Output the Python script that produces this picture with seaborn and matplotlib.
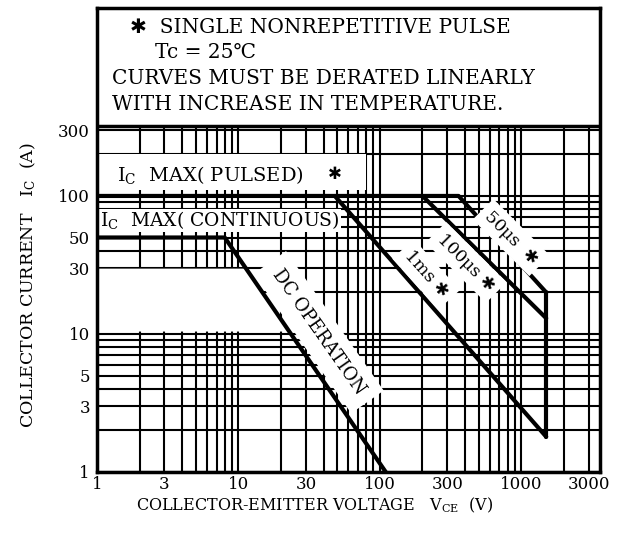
import numpy as np
import pandas as pd
import seaborn as sns
import matplotlib.pyplot as plt
from matplotlib.ticker import NullFormatter

# safe operating area curves (V_CE in volts, I_C in amps)
pulse50_v = [1, 360, 1500]
pulse50_i = [100, 100, 20]
pulse100_v = [200, 1500]
pulse100_i = [100, 13]
pulse1ms_v = [48, 1500]
pulse1ms_i = [100, 1.8]
dc_v = [1, 8, 110]
dc_i = [50, 50, 1]
vmax_v = [1500, 1500]
vmax_i = [1.8, 20]

xtick_vals = [1, 3, 10, 30, 100, 300, 1000, 3000]
ytick_vals = [1, 3, 5, 10, 30, 50, 100, 300]

note_lines = ["\u2731  SINGLE NONREPETITIVE PULSE",
              "Tc = 25\u2103",
              "CURVES MUST BE DERATED LINEARLY",
              "WITH INCREASE IN TEMPERATURE."]

sns.set_style("white")
plt.rcParams['font.family'] = ['DejaVu Serif', 'DejaVu Sans']
plt.rcParams['mathtext.fontset'] = 'dejavuserif'
plt.rcParams['text.color'] = 'black'
plt.rcParams['xtick.color'] = 'black'
plt.rcParams['ytick.color'] = 'black'

fig = plt.figure(figsize=(6.26, 5.36), dpi=100)
ax = fig.add_axes([97/626, 64/536, 503/626, 464/536])
ax.set_xscale('log')
ax.set_yscale('log')
ax.set_xlim(1, 3600)
ax.set_ylim(1, 2300)

#Grid, thick black like the printed chart paper
ax.set_axisbelow(True)
ax.set_xticks(xtick_vals)
ax.set_xticklabels([str(v) for v in xtick_vals])
ax.set_yticks(ytick_vals)
ax.set_yticklabels([str(v) for v in ytick_vals])
ax.set_xticks([m * 10**d for d in range(4) for m in range(1, 10) if m * 10**d < 3600], minor=True)
ax.set_yticks([m * 10**d for d in range(4) for m in range(1, 10) if m * 10**d < 2300], minor=True)
ax.xaxis.set_minor_formatter(NullFormatter())
ax.yaxis.set_minor_formatter(NullFormatter())
ax.grid(True, which='both', color='black', lw=1.5)
ax.tick_params(which='both', length=0, labelsize=12)
ax.tick_params(axis='x', pad=3)
ax.tick_params(axis='y', pad=5)
for s in ax.spines.values():
    s.set_linewidth(2.5)
    s.set_color('black')

#White areas with no chart paper
ax.axhspan(320, 2300, color='white', zorder=1.5)
ax.axhline(320, color='black', lw=2.5, zorder=3)
ax.fill_between([1, 80], 110, 200, color='white', zorder=1.5, lw=0)
ax.fill_between([1, 53], 55, 80, color='white', zorder=1.5, lw=0)
# blank area left of the DC curve, below 30 A
gap_i = np.array([10.5, 30])
gap_v = 10 ** np.interp(np.log10(gap_i), np.log10(dc_i[::-1]), np.log10(dc_v[::-1]))
ax.fill_betweenx(gap_i, 1, gap_v, color='white', zorder=1.5, lw=0)

#Curves
for xs, ys in [(pulse50_v, pulse50_i), (pulse100_v, pulse100_i), (pulse1ms_v, pulse1ms_i),
               (dc_v, dc_i), (vmax_v, vmax_i)]:
    sns.lineplot(x=xs, y=ys, ax=ax, color='black', lw=3, sort=False, estimator=None, zorder=3)

#Labels on the chart
box = dict(boxstyle='square,pad=0.35', fc='white', ec='none')
ax.text(1.39, 142, r"I$_\mathrm{C}$  MAX( PULSED)", fontsize=14, va='center', zorder=4)
ax.text(48, 142, "\u2731", fontsize=12, va='center', ha='center', zorder=4)
ax.text(1.05, 67, r"I$_\mathrm{C}$  MAX( CONTINUOUS)", fontsize=13.5, va='center', zorder=4)
ax.text(36.9, 10.3, "DC OPERATION", fontsize=13, rotation=-55, ha='center', va='center',
        rotation_mode='anchor', bbox=dict(boxstyle='square,pad=0.6', fc='white', ec='none'), zorder=4)
ax.text(212, 27, "1ms \u2731", fontsize=12.5, rotation=-48, ha='center', va='center',
        rotation_mode='anchor', bbox=box, zorder=4)
ax.text(407, 33, "100\u03bcs \u2731", fontsize=12.5, rotation=-45, ha='center', va='center',
        rotation_mode='anchor', bbox=box, zorder=4)
ax.text(850, 50, "50\u03bcs  \u2731", fontsize=12.5, rotation=-45, ha='center', va='center',
        rotation_mode='anchor', bbox=box, zorder=4)

#Note box
note_pos = [(0.066, 0.957), (0.115, 0.905), (0.03, 0.849), (0.03, 0.793)]
for txt, (px, py) in zip(note_lines, note_pos):
    ax.text(px, py, txt, transform=ax.transAxes, fontsize=14.5, va='center', zorder=4)

#Axis titles
fig.text(315/626, 31/536, r"COLLECTOR-EMITTER VOLTAGE   V$_\mathrm{CE}$  (V)", fontsize=11.5, ha='center', va='center')
fig.text(28/626, 251/536, r"COLLECTOR CURRENT   I$_\mathrm{C}$  (A)", fontsize=12.5, rotation=90, ha='center', va='center')

fig.savefig('out.png', dpi=100)
